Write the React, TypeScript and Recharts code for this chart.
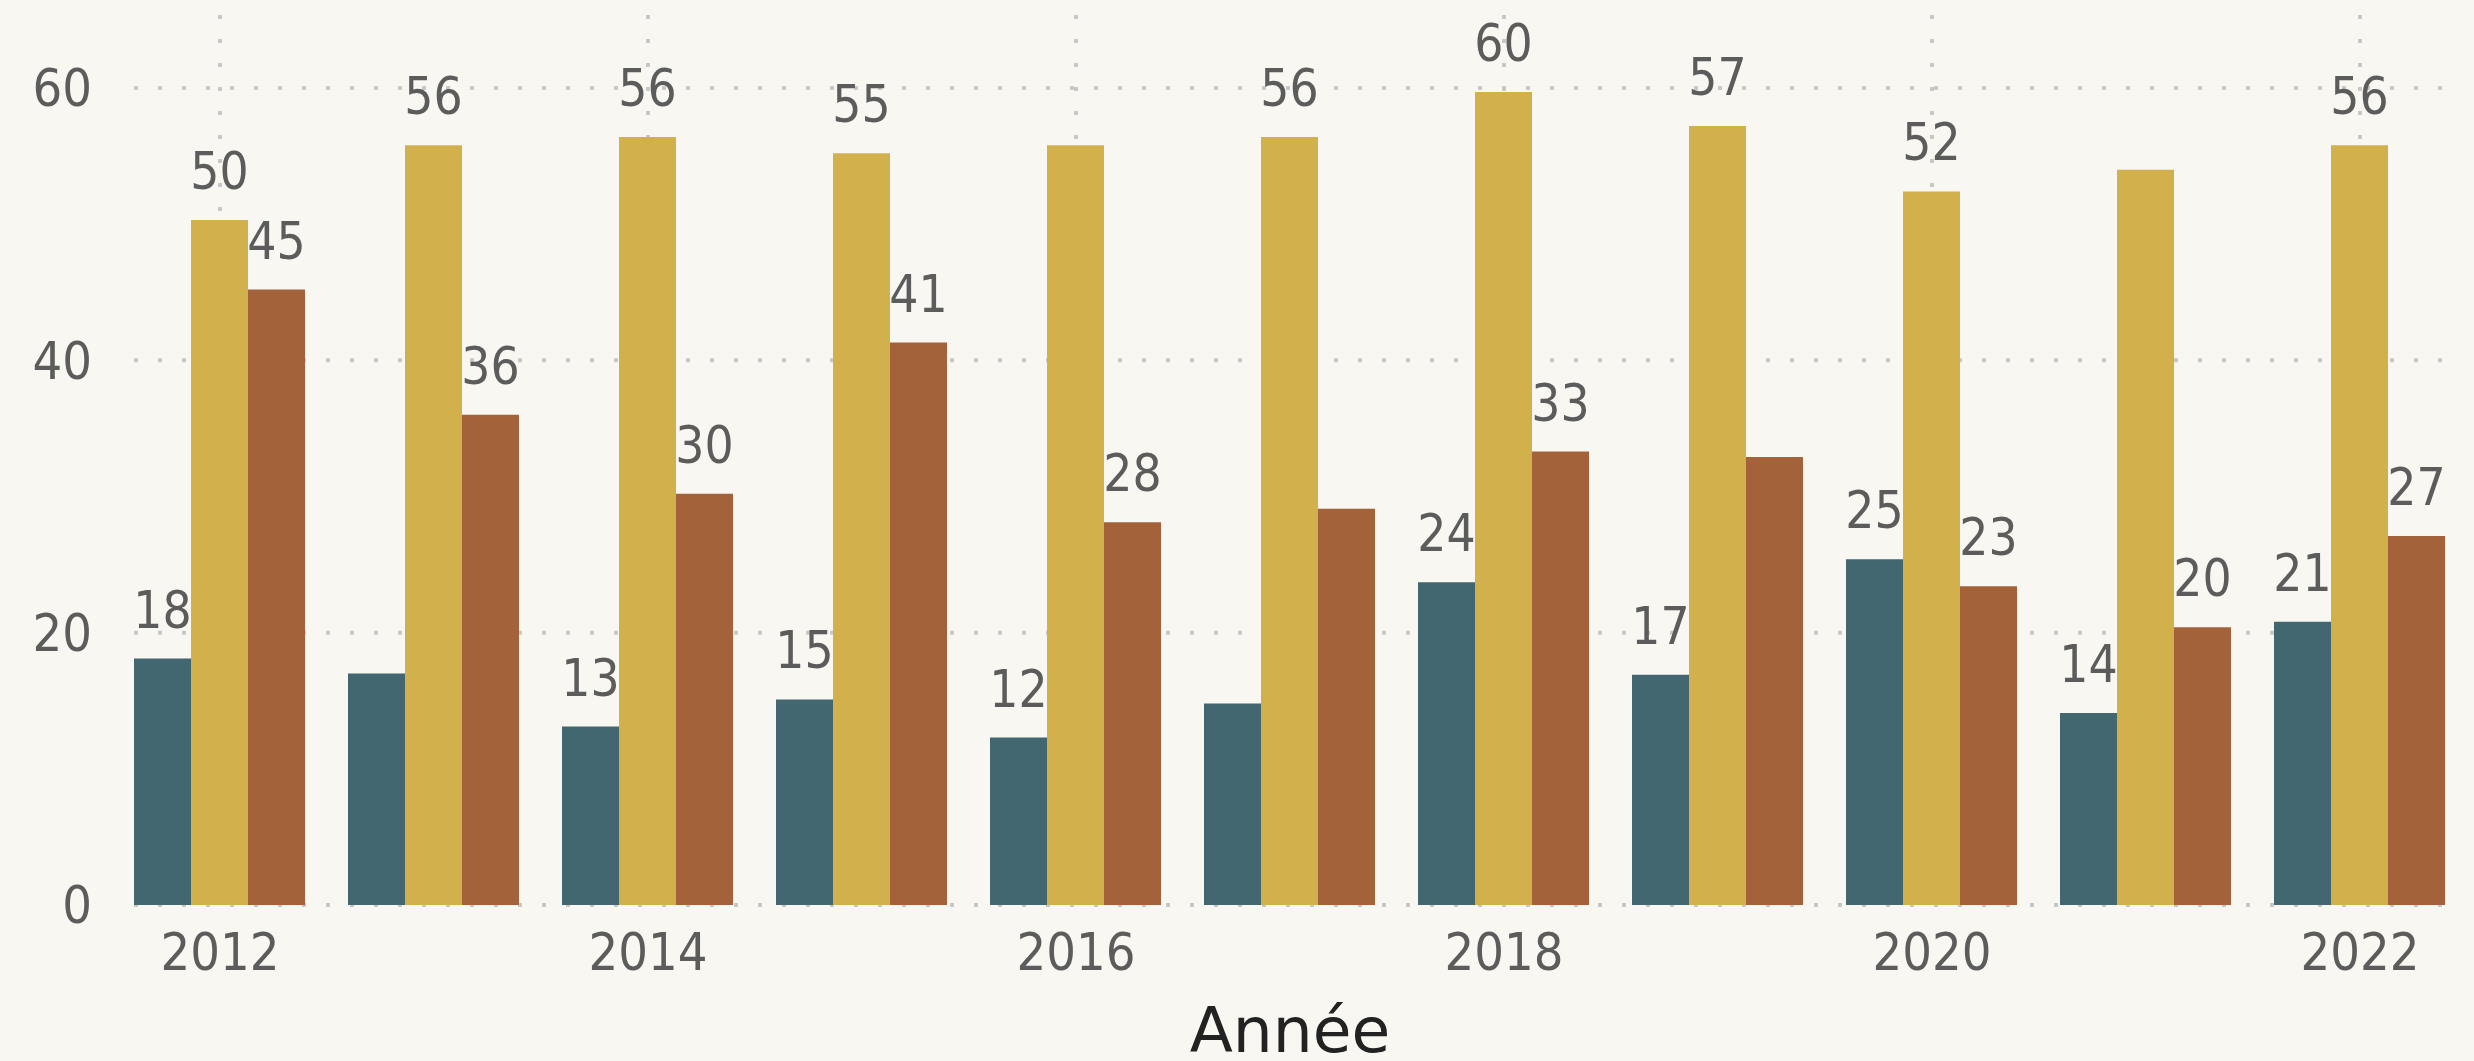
import { BarChart, Bar, XAxis, YAxis, CartesianGrid, LabelList, Label } from 'recharts';

document.body.style.margin = '0';

const FONT = "'DejaVu Sans Condensed', 'DejaVu Sans', sans-serif";
const TEXT_GREY = '#5c5c5c';
const GRID = '#c8c8c8';

// years on the x axis
const years = ['2012', '2013', '2014', '2015', '2016', '2017', '2018', '2019', '2020', '2021', '2022'];
const xTicks = ['2012', '2014', '2016', '2018', '2020', '2022'];
const yTicks = [0, 20, 40, 60];

// three series
const serieBleu = [18.1, 17.0, 13.1, 15.1, 12.3, 14.8, 23.7, 16.9, 25.4, 14.1, 20.8];
const serieOr = [50.3, 55.8, 56.4, 55.2, 55.8, 56.4, 59.7, 57.2, 52.4, 54.0, 55.8];
const serieBrique = [45.2, 36.0, 30.2, 41.3, 28.1, 29.1, 33.3, 32.9, 23.4, 20.4, 27.1];

// which bars carry a value label in the original
const labelBleu = [true, false, true, true, true, false, true, true, true, true, true];
const labelOr = [true, true, true, true, false, true, true, true, true, false, true];
const labelBrique = [true, true, true, true, true, false, true, false, true, true, true];

const COLORS = ['#426770', '#d2b04c', '#a3623a'];

const data = years.map((annee, i) => ({
  annee,
  bleu: serieBleu[i],
  or: serieOr[i],
  brique: serieBrique[i],
  bleuLabel: labelBleu[i] ? Math.round(serieBleu[i]) : null,
  orLabel: labelOr[i] ? Math.round(serieOr[i]) : null,
  briqueLabel: labelBrique[i] ? Math.round(serieBrique[i]) : null,
}));

const renderValue = (props: any) => {
  const { value } = props;
  if (value === null || value === undefined) return null;
  const box = props.viewBox ?? props;
  const x = Number(box.x ?? props.x);
  const y = Number(box.y ?? props.y);
  const width = Number(box.width ?? props.width);
  return (
    <text
      x={x + width / 2}
      y={y - 31}
      textAnchor="middle"
      fill={TEXT_GREY}
      fontSize={51}
      fontFamily={FONT}
    >
      {value}
    </text>
  );
};

export default function App() {
  return (
    <div style={{ width: 2474, height: 1061, background: '#f8f7f2' }}>
      <BarChart
        width={2474}
        height={1061}
        data={data}
        margin={{ top: 15, right: 28, bottom: 0, left: 0 }}
        barCategoryGap={21}
        barGap={0}
      >
        <CartesianGrid
          stroke={GRID}
          strokeWidth={4}
          strokeDasharray="4 20"
          syncWithTicks
        />
        <XAxis
          dataKey="annee"
          ticks={xTicks}
          interval={0}
          padding={{ left: -21, right: -21 }}
          height={156}
          axisLine={false}
          tickLine={false}
          tickSize={0}
          tickMargin={28}
          tick={{ fill: TEXT_GREY, fontSize: 52, fontFamily: FONT }}
        >
          <Label
            value="Année"
            position="insideBottom"
            offset={9}
            fill="#222222"
            fontSize={63}
            fontFamily="'DejaVu Sans', sans-serif"
          />
        </XAxis>
        <YAxis
          domain={[0, 65.36]}
          ticks={yTicks}
          width={134}
          axisLine={false}
          tickLine={false}
          tickSize={0}
          tickMargin={42}
          tick={{ fill: TEXT_GREY, fontSize: 52, fontFamily: FONT }}
        />
        <Bar dataKey="bleu" fill={COLORS[0]} isAnimationActive={false}>
          <LabelList dataKey="bleuLabel" content={renderValue} />
        </Bar>
        <Bar dataKey="or" fill={COLORS[1]} isAnimationActive={false}>
          <LabelList dataKey="orLabel" content={renderValue} />
        </Bar>
        <Bar dataKey="brique" fill={COLORS[2]} isAnimationActive={false}>
          <LabelList dataKey="briqueLabel" content={renderValue} />
        </Bar>
      </BarChart>
    </div>
  );
}
